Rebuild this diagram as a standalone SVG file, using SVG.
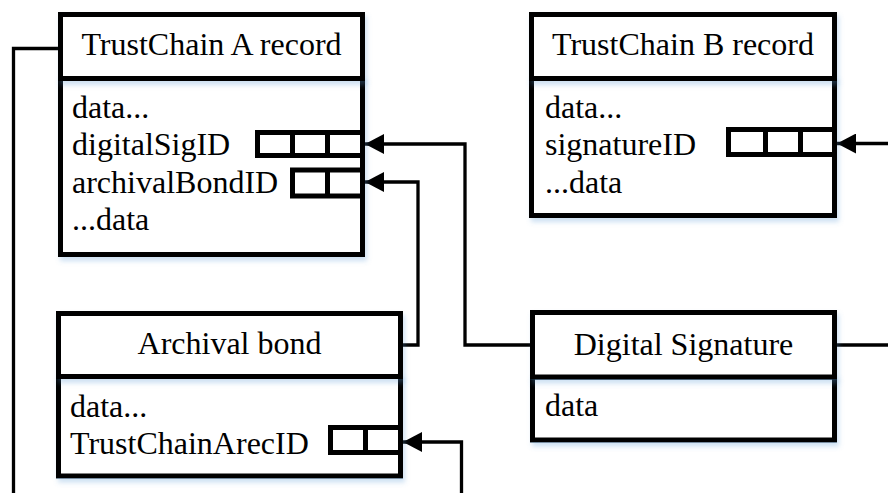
<svg xmlns="http://www.w3.org/2000/svg" width="888" height="493" viewBox="0 0 888 493">
<style>
.box{fill:#fff;stroke:#000;stroke-width:5;filter:url(#sh)}
.ptr{fill:#fff;stroke:#000;stroke-width:5}
.div{stroke:#000;stroke-width:5}
.t{font-family:"Liberation Serif","Times New Roman",serif;font-size:32px;fill:#000}
.c{text-anchor:middle}
.con{fill:none;stroke:#000;stroke-width:3.3}
</style>
<defs>
<filter id="sh" x="-10%" y="-10%" width="125%" height="130%">
<feDropShadow dx="2" dy="4" stdDeviation="2.5" flood-color="#5b9bd5" flood-opacity="0.3"/>
</filter>
<marker id="ah" viewBox="0 0 19 20" refX="19" refY="10" markerWidth="19" markerHeight="20" markerUnits="userSpaceOnUse" orient="auto">
<path d="M0,0 L19,10 L0,20 z" fill="#000"/>
</marker>
</defs>
<g id="connectors">
<path class="con" d="M60.5,48.5 H13.5 V493"/>
<path class="con" d="M532.5,345 H465 V144 H365" marker-end="url(#ah)"/>
<path class="con" d="M400.5,345 H418 V182 H365" marker-end="url(#ah)"/>
<path class="con" d="M461.5,493 V442 H403" marker-end="url(#ah)"/>
<path class="con" d="M888,143.5 H837" marker-end="url(#ah)"/>
<path class="con" d="M834.5,345 H888"/>
</g>
<g id="trustchainA">
<rect class="box" x="60.5" y="78.5" width="302" height="176"/>
<rect class="box" x="60.5" y="14.5" width="302" height="64"/>
<text class="t c" x="211.5" y="55">TrustChain A record</text>
<text class="t" x="72" y="118">data...</text>
<text class="t" x="72" y="155">digitalSigID</text>
<text class="t" x="72" y="193">archivalBondID</text>
<text class="t" x="72" y="230">...data</text>
<rect class="ptr" x="257.5" y="132.5" width="105" height="23"/>
<line class="div" x1="292.5" y1="132.5" x2="292.5" y2="155.5"/>
<line class="div" x1="327.5" y1="132.5" x2="327.5" y2="155.5"/>
<rect class="ptr" x="292.5" y="170" width="70" height="26"/>
<line class="div" x1="327.5" y1="170" x2="327.5" y2="196"/>
</g>
<g id="trustchainB">
<rect class="box" x="531.5" y="78.5" width="303" height="137"/>
<rect class="box" x="531.5" y="14.5" width="303" height="64"/>
<text class="t c" x="683" y="55">TrustChain B record</text>
<text class="t" x="545" y="118">data...</text>
<text class="t" x="545" y="155">signatureID</text>
<text class="t" x="545" y="193">...data</text>
<rect class="ptr" x="728.5" y="129.5" width="106" height="25"/>
<line class="div" x1="765.5" y1="129.5" x2="765.5" y2="154.5"/>
<line class="div" x1="800.5" y1="129.5" x2="800.5" y2="154.5"/>
</g>
<g id="archivalBond">
<rect class="box" x="58.5" y="376.5" width="342" height="99.5"/>
<rect class="box" x="58.5" y="313.5" width="342" height="63"/>
<text class="t c" x="229.5" y="354">Archival bond</text>
<text class="t" x="70" y="417">data...</text>
<text class="t" x="70" y="454">TrustChainArecID</text>
<rect class="ptr" x="330.5" y="427.5" width="70" height="25"/>
<line class="div" x1="365.5" y1="427.5" x2="365.5" y2="452.5"/>
</g>
<g id="digitalSignature">
<rect class="box" x="532.5" y="377" width="302" height="63"/>
<rect class="box" x="532.5" y="312.5" width="302" height="64.5"/>
<text class="t c" x="683.5" y="355">Digital Signature</text>
<text class="t" x="545" y="416">data</text>
</g>
</svg>
